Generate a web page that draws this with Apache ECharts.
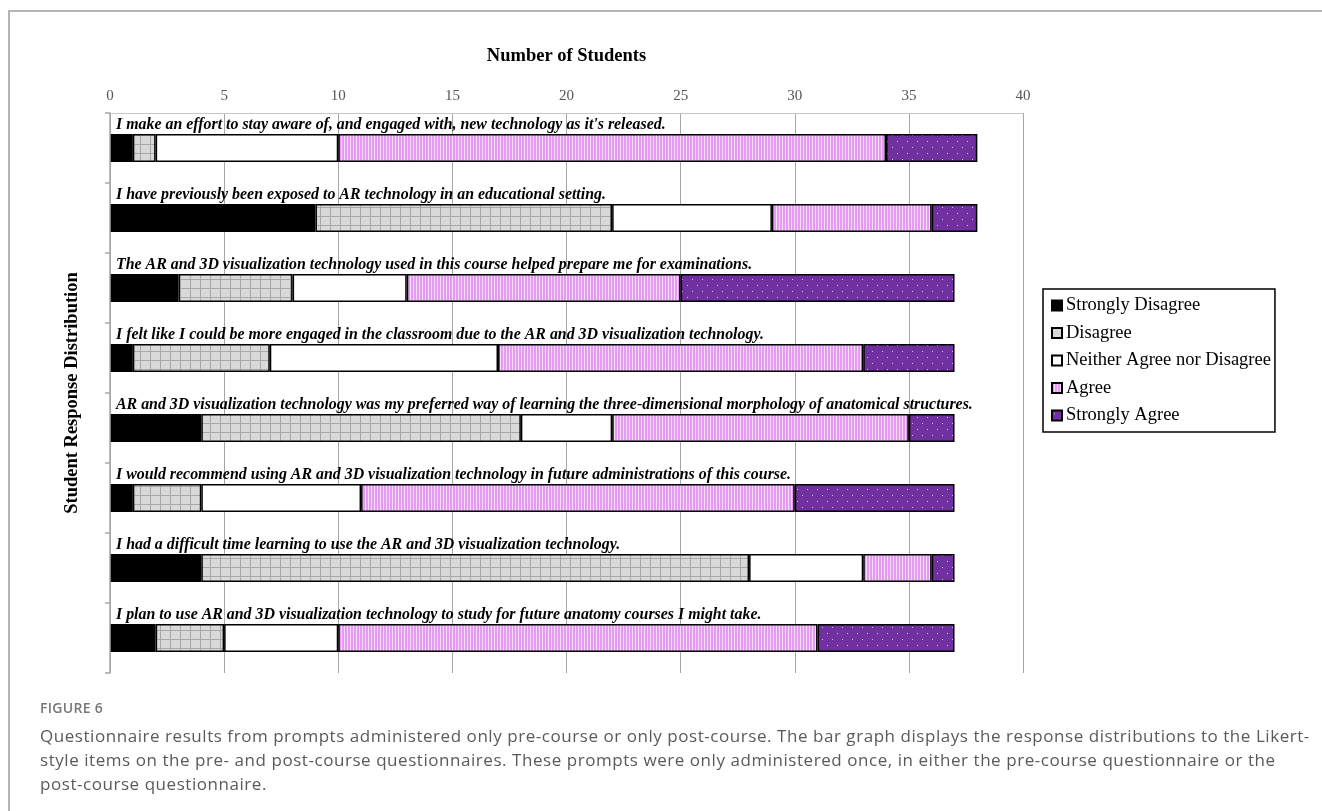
<!DOCTYPE html>
<html>
<head>
<meta charset="utf-8">
<script src="https://cdn.jsdelivr.net/npm/echarts@6/dist/echarts.min.js"></script>
<style>
html, body { margin: 0; padding: 0; background: #fff; }
#wrap { position: relative; width: 1322px; height: 811px; overflow: hidden; }
#frame { position: absolute; left: 8px; top: 10px; right: 0; bottom: 0; border-top: 2px solid #b5b5b5; border-left: 2px solid #b5b5b5; }
#myChart { position: absolute; left: 0; top: 0; width: 1322px; height: 811px; }
#caption { position: absolute; left: 40px; top: 698px; width: 1280px; font-family: "Open Sans", sans-serif; color: #5a5a5a; }
#caption .fig { font-size: 14px; font-weight: 600; color: #777; letter-spacing: 0.3px; }
#caption .txt { font-size: 17px; line-height: 24px; margin-top: 7px; letter-spacing: 0.55px; white-space: nowrap; }
</style>
</head>
<body>
<div id="wrap">
	<div id="frame"></div>
	<div id="myChart"></div>
	<div id="caption">
		<div class="fig">FIGURE 6</div>
		<div class="txt">Questionnaire results from prompts administered only pre-course or only post-course. The bar graph displays the response distributions to the Likert-<br>style items on the pre- and post-course questionnaires. These prompts were only administered once, in either the pre-course questionnaire or the<br>post-course questionnaire.</div>
	</div>
</div>
<script>
// prompts, top to bottom
var prompts = [
	"I make an effort to stay aware of, and engaged with, new technology as it's released.",
	"I have previously been exposed to AR technology in an educational setting.",
	"The AR and 3D visualization technology used in this course helped prepare me for examinations.",
	"I felt like I could be more engaged in the classroom due to the AR and 3D visualization technology.",
	"AR and 3D visualization technology was my preferred way of learning the three-dimensional morphology of anatomical structures.",
	"I would recommend using AR and 3D visualization technology in future administrations of this course.",
	"I had a difficult time learning to use the AR and 3D visualization technology.",
	"I plan to use AR and 3D visualization technology to study for future anatomy courses I might take."
]
var responses = ['Strongly Disagree', 'Disagree', 'Neither Agree nor Disagree', 'Agree', 'Strongly Agree']

var stronglyDisagree = [1, 9, 3, 1, 4, 1, 4, 2]
var disagree = [1, 13, 5, 6, 14, 3, 24, 3]
var neither = [8, 7, 5, 10, 4, 7, 5, 5]
var agree = [24, 7, 12, 16, 13, 19, 3, 21]
var stronglyAgree = [4, 2, 12, 4, 2, 7, 1, 6]

var xTicks = [0, 5, 10, 15, 20, 25, 30, 35, 40]

function makePattern (w, h, draw) {
	let c = document.createElement('canvas')
	c.width = w
	c.height = h
	draw(c.getContext('2d'))
	return { image: c, repeat: 'repeat' }
}

let gridFill = makePattern(10, 9, function (ctx) {
	ctx.fillStyle = '#d9d9d9'
	ctx.fillRect(0, 0, 10, 9)
	ctx.fillStyle = '#a8a8a8'
	ctx.fillRect(0, 0, 10, 1)
	ctx.fillRect(0, 0, 1, 9)
})
let stripeFill = makePattern(3, 4, function (ctx) {
	ctx.fillStyle = '#e39cf0'
	ctx.fillRect(0, 0, 3, 4)
	ctx.fillStyle = '#f6dafa'
	ctx.fillRect(2, 0, 1, 4)
})
let dotFill = makePattern(10, 12, function (ctx) {
	ctx.fillStyle = '#7030a0'
	ctx.fillRect(0, 0, 10, 12)
	ctx.fillStyle = '#d9c6e8'
	ctx.fillRect(2, 3, 1, 1)
	ctx.fillRect(7, 9, 1, 1)
})

let fills = ['#000000', gridFill, '#ffffff', stripeFill, dotFill]
let values = [stronglyDisagree, disagree, neither, agree, stronglyAgree]

let serif = '"Liberation Serif", "Times New Roman", serif'

let option = {
	animation: false,
	grid: {
		left: 110,
		right: 299,
		top: 113,
		bottom: 138
	},
	legend: {
		orient: 'vertical',
		left: 1043,
		top: 289,
		data: responses,
		icon: 'rect',
		itemWidth: 10,
		itemHeight: 10,
		itemGap: 8.5,
		padding: [7, 4, 7, 8],
		borderColor: '#000',
		borderWidth: 1.5,
		borderRadius: 0,
		textStyle: {
			fontFamily: serif,
			fontSize: 18.5,
			color: '#000',
			padding: [0, 0, 0, -1]
		}
	},
	xAxis: {
		type: 'value',
		position: 'top',
		min: 0,
		max: 40,
		interval: 5,
		name: 'Number of Students',
		nameLocation: 'middle',
		nameGap: 47,
		nameTextStyle: {
			fontFamily: serif,
			fontWeight: 'bold',
			fontSize: 18.5,
			color: '#000'
		},
		axisLine: { show: true, lineStyle: { color: '#c8c8c8', width: 1 } },
		axisTick: { show: false },
		axisLabel: {
			margin: 9,
			fontFamily: serif,
			fontSize: 15,
			color: '#555555',
			formatter: function (v) { return xTicks.indexOf(v) >= 0 ? String(v) : '' }
		},
		splitLine: { show: true, lineStyle: { color: '#a6a6a6', width: 1 } }
	},
	yAxis: {
		type: 'category',
		inverse: true,
		data: prompts,
		name: 'Student Response Distribution',
		nameLocation: 'middle',
		nameRotate: 90,
		nameGap: 28,
		nameTextStyle: {
			fontFamily: serif,
			fontWeight: 'bold',
			fontSize: 18.5,
			color: '#000'
		},
		axisLine: { show: true, lineStyle: { color: '#a6a6a6', width: 1.5 } },
		axisTick: { show: true, length: 5, lineStyle: { color: '#a6a6a6', width: 1.5 } },
		axisLabel: {
			inside: true,
			margin: 6,
			align: 'left',
			verticalAlign: 'bottom',
			padding: [0, 0, 15, 0],
			fontFamily: serif,
			fontStyle: 'italic',
			fontWeight: 'bold',
			fontSize: 15.9,
			color: '#000'
		},
		z: 5
	},
	series: responses.map(function (name, i) {
		return {
			name: name,
			type: 'bar',
			stack: 'total',
			barWidth: 28,
			data: values[i],
			itemStyle: {
				color: fills[i],
				borderColor: '#000',
				borderWidth: 1.5
			}
		}
	})
}

let myChart = echarts.init(document.getElementById('myChart'))
myChart.setOption(option)
</script>
</body>
</html>
